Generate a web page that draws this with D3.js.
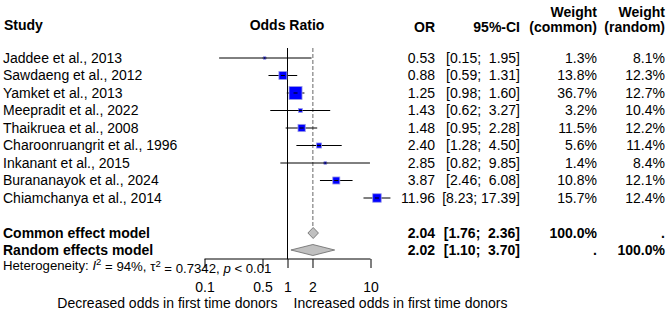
<!DOCTYPE html>
<html>
<head>
<meta charset="utf-8">
<script src="https://cdn.jsdelivr.net/npm/d3@7"></script>
<style>
  body { margin: 0; background: #fff; }
  text { font-family: "Liberation Sans", Arial, sans-serif; fill: #000; white-space: pre; }
  .bold { font-weight: bold; }
</style>
</head>
<body>
<div id="chart"></div>
<script>
// Study level data
const studies = ["Jaddee et al., 2013", "Sawdaeng et al., 2012", "Yamket et al., 2013",
    "Meepradit et al., 2022", "Thaikruea et al., 2008", "Charoonruangrit et al., 1996",
    "Inkanant et al., 2015", "Burananayok et al., 2024", "Chiamchanya et al., 2014"];
const oddsRatio = [0.53, 0.88, 1.25, 1.43, 1.48, 2.40, 2.85, 3.87, 11.96];
const ciLower = [0.15, 0.59, 0.98, 0.62, 0.95, 1.28, 0.82, 2.46, 8.23];
const ciUpper = [1.95, 1.31, 1.60, 3.27, 2.28, 4.50, 9.85, 6.08, 17.39];
const weightCommon = [1.3, 13.8, 36.7, 3.2, 11.5, 5.6, 1.4, 10.8, 15.7];
const weightRandom = [8.1, 12.3, 12.7, 10.4, 12.2, 11.4, 8.4, 12.1, 12.4];

// Pooled estimates
const models = ["Common effect model", "Random effects model"];
const modelOR = [2.04, 2.02];
const modelLower = [1.76, 1.10];
const modelUpper = [2.36, 3.70];
const modelWCommon = ["100.0%", "."];
const modelWRandom = [".", "100.0%"];

const axisTicks = [0.1, 0.5, 1, 2, 10];

const width = 669, height = 311;

const svg = d3.select("#chart").append("svg")
    .attr("width", width)
    .attr("height", height);

// Scales
const x = d3.scaleLog()
    .domain([0.1, 10])
    .range([204.5, 370.5]);

const rowY = d3.scalePoint()
    .domain(d3.range(studies.length))
    .range([58, 198]);

const modelY = [233, 250];
const axisY = 259;

const sq = d3.scaleSqrt()
    .domain([0, d3.max(weightCommon)])
    .range([0, 13]);

const fmt = d3.format(".2f");
const ciText = (lo, hi) => "[" + fmt(lo) + "; " + fmt(hi).padStart(5) + "]";

// Column positions
const col = { study: 3, or: 435, ci: 520, wc: 597, wr: 665 };

// Header
svg.append("text").attr("class", "bold").attr("x", 4).attr("y", 25).attr("dy", "0.35em")
    .style("font-size", "14px").text("Study");
svg.append("text").attr("class", "bold").attr("x", 287).attr("y", 25).attr("dy", "0.35em")
    .attr("text-anchor", "middle").style("font-size", "14px").text("Odds Ratio");
svg.append("text").attr("class", "bold").attr("x", col.or).attr("y", 27).attr("dy", "0.35em")
    .attr("text-anchor", "end").style("font-size", "14px").text("OR");
svg.append("text").attr("class", "bold").attr("x", col.ci).attr("y", 27).attr("dy", "0.35em")
    .attr("text-anchor", "end").style("font-size", "14px").text("95%-CI");
[["wc", "(common)"], ["wr", "(random)"]].forEach(function (h) {
    svg.append("text").attr("class", "bold").attr("x", col[h[0]]).attr("y", 12).attr("dy", "0.35em")
        .attr("text-anchor", "end").style("font-size", "14px").text("Weight");
    svg.append("text").attr("class", "bold").attr("x", col[h[0]]).attr("y", 27).attr("dy", "0.35em")
        .attr("text-anchor", "end").style("font-size", "14px").text(h[1]);
});

// Reference lines
svg.append("line")
    .attr("x1", x(1)).attr("x2", x(1))
    .attr("y1", 48).attr("y2", axisY)
    .style("stroke", "#000").style("stroke-width", 1);

svg.append("line")
    .attr("x1", x(modelOR[1])).attr("x2", x(modelOR[1]))
    .attr("y1", 48).attr("y2", modelY[0] - 5)
    .style("stroke", "#808080").style("stroke-width", 1.2)
    .style("stroke-dasharray", "4,2");

// Study rows
const rows = svg.selectAll(".row")
    .data(studies)
    .enter().append("g")
    .attr("class", "row")
    .attr("transform", function (d, i) { return "translate(0," + rowY(i) + ")"; });

rows.append("text")
    .attr("x", col.study).attr("dy", "0.35em")
    .style("font-size", "14px")
    .text(function (d) { return d; });

rows.append("line")
    .attr("x1", function (d, i) { return x(ciLower[i]); })
    .attr("x2", function (d, i) { return x(ciUpper[i]); })
    .style("stroke", "#000").style("stroke-width", 1);

rows.append("rect")
    .attr("x", function (d, i) { return x(oddsRatio[i]) - sq(weightCommon[i]) / 2; })
    .attr("y", function (d, i) { return -sq(weightCommon[i]) / 2; })
    .attr("width", function (d, i) { return sq(weightCommon[i]); })
    .attr("height", function (d, i) { return sq(weightCommon[i]); })
    .style("fill", "#0000ff")
    .style("stroke", "#9a9ae6").style("stroke-width", 0.8);

rows.append("line")
    .attr("x1", function (d, i) { return x(oddsRatio[i]) - 2; })
    .attr("x2", function (d, i) { return x(oddsRatio[i]) + 2; })
    .style("stroke", "#000").style("stroke-width", 1);

rows.append("text")
    .attr("x", col.or).attr("dy", "0.35em").attr("text-anchor", "end")
    .style("font-size", "14px")
    .text(function (d, i) { return fmt(oddsRatio[i]); });

rows.append("text")
    .attr("x", col.ci).attr("dy", "0.35em").attr("text-anchor", "end")
    .style("font-size", "14px")
    .text(function (d, i) { return ciText(ciLower[i], ciUpper[i]); });

rows.append("text")
    .attr("x", col.wc).attr("dy", "0.35em").attr("text-anchor", "end")
    .style("font-size", "14px")
    .text(function (d, i) { return weightCommon[i].toFixed(1) + "%"; });

rows.append("text")
    .attr("x", col.wr).attr("dy", "0.35em").attr("text-anchor", "end")
    .style("font-size", "14px")
    .text(function (d, i) { return weightRandom[i].toFixed(1) + "%"; });

// Pooled rows
const pooled = svg.selectAll(".pooled")
    .data(models)
    .enter().append("g")
    .attr("class", "pooled")
    .attr("transform", function (d, i) { return "translate(0," + modelY[i] + ")"; });

pooled.append("path")
    .attr("d", function (d, i) {
        const h = 5.5;
        return "M" + x(modelLower[i]) + ",0L" + x(modelOR[i]) + "," + (-h) +
            "L" + x(modelUpper[i]) + ",0L" + x(modelOR[i]) + "," + h + "Z";
    })
    .style("fill", "#c0c0c0")
    .style("stroke", "#666").style("stroke-width", 0.8);

pooled.append("text")
    .attr("class", "bold")
    .attr("x", col.study).attr("dy", "0.35em")
    .style("font-size", "14px")
    .text(function (d) { return d; });

pooled.append("text")
    .attr("class", "bold")
    .attr("x", col.or).attr("dy", "0.35em").attr("text-anchor", "end")
    .style("font-size", "14px")
    .text(function (d, i) { return fmt(modelOR[i]); });

pooled.append("text")
    .attr("class", "bold")
    .attr("x", col.ci).attr("dy", "0.35em").attr("text-anchor", "end")
    .style("font-size", "14px")
    .text(function (d, i) { return ciText(modelLower[i], modelUpper[i]); });

pooled.append("text")
    .attr("class", "bold")
    .attr("x", col.wc).attr("dy", "0.35em").attr("text-anchor", "end")
    .style("font-size", "14px")
    .text(function (d, i) { return modelWCommon[i]; });

pooled.append("text")
    .attr("class", "bold")
    .attr("x", col.wr).attr("dy", "0.35em").attr("text-anchor", "end")
    .style("font-size", "14px")
    .text(function (d, i) { return modelWRandom[i]; });

// Heterogeneity
const het = svg.append("text")
    .attr("x", col.study).attr("y", 265).attr("dy", "0.35em")
    .style("font-size", "13.2px");
het.append("tspan").text("Heterogeneity: ");
het.append("tspan").style("font-style", "italic").text("I");
het.append("tspan").attr("dy", "-0.5em").style("font-size", "9.5px").text("2");
het.append("tspan").attr("dy", "0.5em").text(" = 94%, \u03c4");
het.append("tspan").attr("dy", "-0.5em").style("font-size", "9.5px").text("2");
het.append("tspan").attr("dy", "0.5em").text(" = 0.7342, ");
het.append("tspan").style("font-style", "italic").text("p");
het.append("tspan").text(" < 0.01");

// Axis
const xAxis = d3.axisBottom(x)
    .tickValues(axisTicks)
    .tickFormat(function (d) { return String(d); })
    .tickSize(9)
    .tickPadding(14);

const gAxis = svg.append("g")
    .attr("class", "x-axis axis")
    .attr("transform", "translate(0," + axisY + ")")
    .call(xAxis);

gAxis.select(".domain")
    .attr("d", "M" + x(0.1) + ",0H" + x(10))
    .style("stroke", "#000");
gAxis.selectAll(".tick line").style("stroke", "#000");
gAxis.selectAll(".tick text")
    .style("font-family", "Liberation Sans, Arial, sans-serif")
    .style("font-size", "14px")
    .style("fill", "#000");

// Axis direction labels
svg.append("text")
    .attr("x", x(1) - 10).attr("y", 303).attr("dy", "0.35em")
    .attr("text-anchor", "end").style("font-size", "14px")
    .text("Decreased odds in first time donors");
svg.append("text")
    .attr("x", x(1) + 6).attr("y", 303).attr("dy", "0.35em")
    .style("font-size", "14px")
    .text("Increased odds in first time donors");
</script>
</body>
</html>
